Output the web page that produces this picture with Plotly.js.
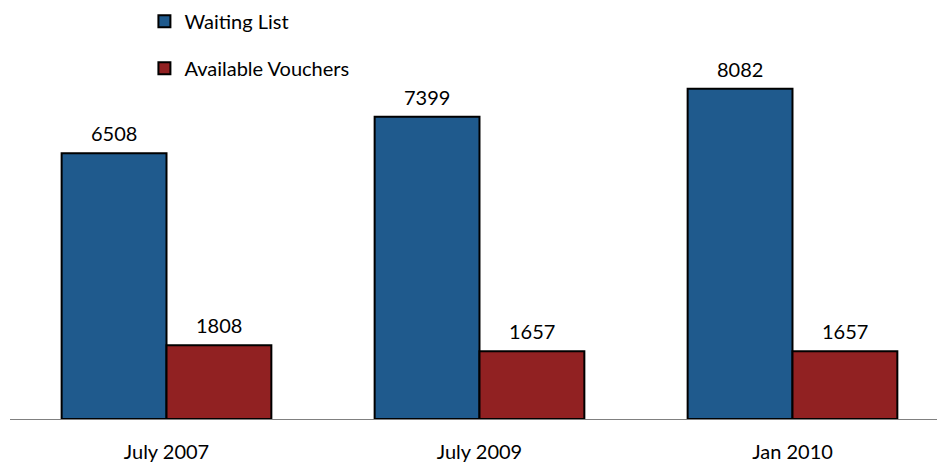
<!DOCTYPE html>
<html>
<head>
<meta charset="utf-8">
<script src="https://cdn.plot.ly/plotly-3.0.1.min.js"></script>
<style>html,body{margin:0;padding:0;background:#fff;}#chart{width:937px;height:462px;}</style>
</head>
<body>
<div id="chart"></div>
<script>
const categories = ["July 2007", "July 2009", "Jan 2010"];
const waitingList = [6508, 7399, 8082];
const availableVouchers = [1808, 1657, 1657];
const seriesNames = ["Waiting List", "Available Vouchers"];

const FONT = "Lato, 'Liberation Sans', sans-serif";
const FS = 20;
const BARGAP = 0.33;

const colors = ["#1f5a8d", "#912122"];
const seriesValues = [waitingList, availableVouchers];

const traces = seriesValues.map((vals, i) => ({
  type: "bar", name: seriesNames[i], x: categories, y: vals,
  marker: {color: colors[i], line: {color: "#000", width: 2}},
  legendgroup: "g" + i, hoverinfo: "skip"
}));

// value labels placed over each bar through the axis scales
const barW = (1 - BARGAP) / seriesValues.length;
const annotations = [];
seriesValues.forEach((vals, i) => {
  const off = -(1 - BARGAP) / 2 + barW * (i + 0.5);
  vals.forEach((v, j) => {
    annotations.push({
      x: j + off, y: v, xref: "x", yref: "y",
      text: String(v), showarrow: false,
      xanchor: "center", yanchor: "bottom", yshift: 6,
      font: {family: FONT, size: FS, color: "#000"}
    });
  });
});

const layout = {
  width: 937, height: 462,
  margin: {l: 10, r: 0, t: 10, b: 43},
  paper_bgcolor: "#fff", plot_bgcolor: "#fff",
  font: {family: FONT, size: FS, color: "#000"},
  barmode: "group", bargap: BARGAP, bargroupgap: 0,
  xaxis: {
    type: "category", range: [-0.5, 2.4617], fixedrange: true,
    showline: true, linecolor: "#808080", linewidth: 1,
    ticks: "", showgrid: false, zeroline: false,
    ticklabelstandoff: 15,
    tickfont: {family: FONT, size: FS, color: "#000"}
  },
  yaxis: {
    range: [0, 10012], visible: false, showgrid: false, zeroline: false, fixedrange: true
  },
  annotations: annotations,
  showlegend: true,
  legend: {
    x: 0.145, y: 1.02, xanchor: "left", yanchor: "top",
    orientation: "v", traceorder: "grouped", tracegroupgap: 18,
    itemwidth: 30,
    font: {family: FONT, size: FS, color: "#000"},
    bgcolor: "rgba(0,0,0,0)"
  }
};

Plotly.newPlot("chart", traces, layout, {displayModeBar: false, staticPlot: true});
</script>
</body>
</html>
